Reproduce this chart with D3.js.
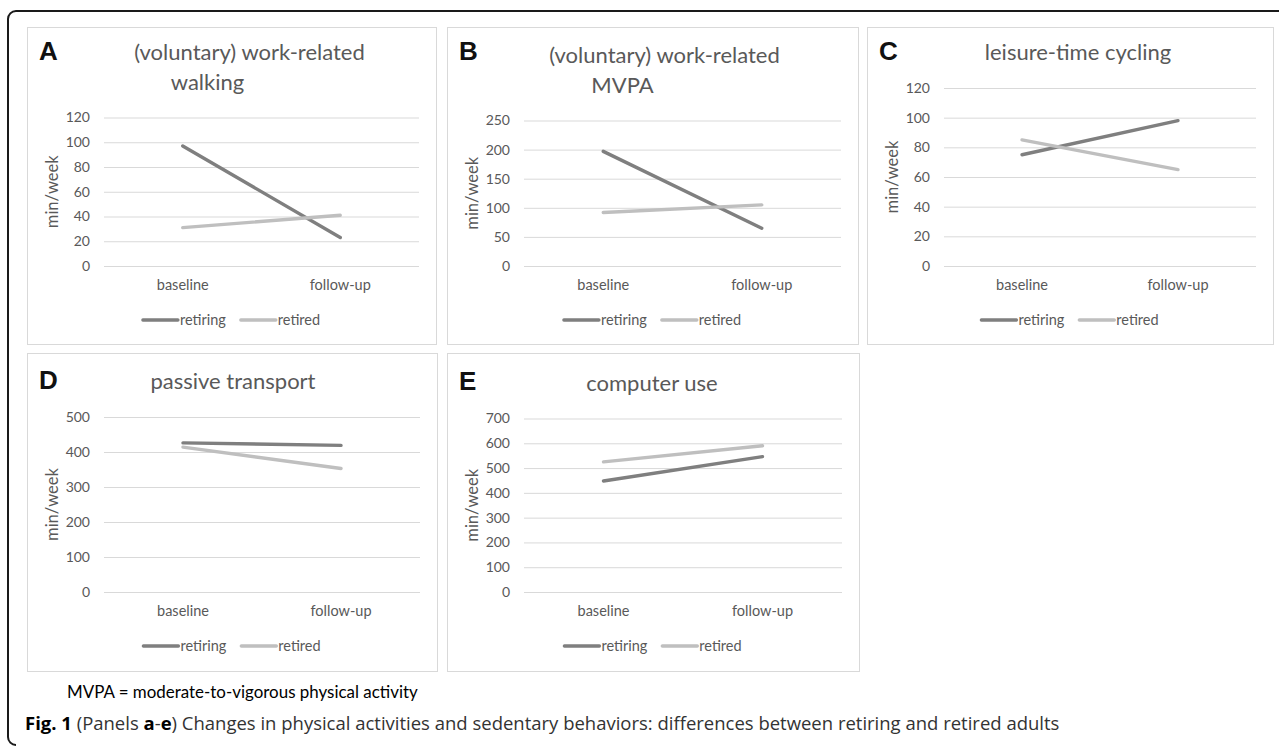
<!DOCTYPE html>
<html>
<head>
<meta charset="utf-8">
<script src="https://cdn.jsdelivr.net/npm/d3@7"></script>
<style>
  body { margin: 0; background: #fff; }
  text { font-family: Lato, "Open Sans", sans-serif; }
</style>
</head>
<body>
<svg id="chart" width="1279" height="747"></svg>
<script>
// data (min/week)
const categories = ['baseline', 'follow-up'];
const seriesNames = ['retiring', 'retired'];
const letters = ['A', 'B', 'C', 'D', 'E'];
const titles = [
  ['(voluntary) work-related', 'walking'],
  ['(voluntary) work-related', 'MVPA'],
  ['leisure-time cycling'],
  ['passive transport'],
  ['computer use'],
];
const yMax = [120, 250, 120, 500, 700];
const yStep = [20, 50, 20, 100, 100];
const retiring = [[97, 23], [197, 65], [75, 98], [426, 419], [448, 546]];
const retired = [[31, 41], [92, 105], [85, 65], [414, 353], [525, 590]];
const note = 'MVPA = moderate-to-vigorous physical activity';
const caption = [
  { t: 'Fig. 1', b: true }, { t: ' (Panels ' }, { t: 'a', b: true }, { t: '-' },
  { t: 'e', b: true }, { t: ') Changes in physical activities and sedentary behaviors: differences between retiring and retired adults' },
];

// layout
const boxes = [
  { x: 27, y: 27, w: 409, h: 317, t: 33, l: 33, dx: [18, -24] },
  { x: 447, y: 27, w: 411, h: 317, t: 36, l: 33, dx: [12, -30] },
  { x: 867, y: 27, w: 406, h: 317, t: 33, l: 33, dx: [8] },
  { x: 27, y: 353, w: 410, h: 318, t: 36, l: 36, dx: [1] },
  { x: 447, y: 353, w: 412, h: 318, t: 37.5, l: 36.5, dx: [-1] },
];
const colors = ['#7f7f7f', '#bfbfbf'];
const textGray = '#595959';
const gridGray = '#d9d9d9';

const svg = d3.select('#chart');

// outer frame, open on the right and bottom
svg.append('path')
  .attr('d', 'M1290,11H16A8,8 0 0 0 8,19V737A8,8 0 0 0 16,745')
  .attr('fill', 'none')
  .attr('stroke', '#1a1a1a')
  .attr('stroke-width', 2);

boxes.forEach((b, i) => {
  const g = svg.append('g').attr('transform', `translate(${b.x},${b.y})`);

  g.append('rect')
    .attr('x', 0.5).attr('y', 0.5)
    .attr('width', b.w).attr('height', b.h)
    .attr('fill', '#fff')
    .attr('stroke', gridGray);

  g.append('text')
    .attr('x', 12).attr('y', b.l)
    .style('font-family', '"Liberation Sans", Arial, sans-serif')
    .attr('font-weight', 'bold')
    .attr('font-size', 26)
    .attr('fill', '#111')
    .text(letters[i]);

  const lines = titles[i];
  lines.forEach((line, k) => {
    g.append('text')
      .attr('x', b.w / 2 + b.dx[k])
      .attr('y', b.t + k * 29.5)
      .attr('text-anchor', 'middle')
      .attr('font-size', 22)
      .attr('fill', textGray)
      .text(line);
  });

  const top = b.t + (lines.length - 1) * 29.5 + 28;
  const bottom = 239;
  const left = 77;
  const right = b.w - 17;

  const x = d3.scaleBand().domain(categories).range([left, right]);
  const y = d3.scaleLinear().domain([0, yMax[i]]).range([bottom, top]);

  const yAxis = g.append('g')
    .attr('transform', `translate(${left},0)`)
    .call(d3.axisLeft(y)
      .tickValues(d3.range(0, yMax[i] + 1, yStep[i]))
      .tickSize(-(right - left))
      .tickPadding(14));
  yAxis.select('.domain').remove();
  yAxis.selectAll('line').attr('stroke', gridGray);
  yAxis.selectAll('text')
    .attr('fill', textGray)
    .attr('font-size', 14)
    .style('font-family', 'Lato, sans-serif');

  const xAxis = g.append('g')
    .attr('transform', `translate(0,${bottom})`)
    .call(d3.axisBottom(x).tickSize(0).tickPadding(14));
  xAxis.select('.domain').remove();
  xAxis.selectAll('text')
    .attr('fill', textGray)
    .attr('font-size', 14.5)
    .style('font-family', 'Lato, sans-serif');

  g.append('text')
    .attr('transform', `translate(25,${(top + bottom) / 2}) rotate(-90)`)
    .attr('text-anchor', 'middle')
    .attr('dy', '0.35em')
    .attr('font-size', 16.5)
    .attr('fill', textGray)
    .text('min/week');

  const line = d3.line()
    .x((d, j) => x(categories[j]) + x.bandwidth() / 2)
    .y(d => y(d));

  [retiring[i], retired[i]].forEach((vals, s) => {
    g.append('path')
      .datum(vals)
      .attr('d', line)
      .attr('fill', 'none')
      .attr('stroke', colors[s])
      .attr('stroke-width', 3.4)
      .attr('stroke-linecap', 'round');
  });

  // legend, centred on the panel
  const lg = g.append('g');
  let cx = 0;
  seriesNames.forEach((name, s) => {
    lg.append('line')
      .attr('x1', cx).attr('x2', cx + 35)
      .attr('y1', 0).attr('y2', 0)
      .attr('stroke', colors[s])
      .attr('stroke-width', 3.4)
      .attr('stroke-linecap', 'round');
    const t = lg.append('text')
      .attr('x', cx + 37)
      .attr('dy', '0.35em')
      .attr('font-size', 14.5)
      .attr('fill', textGray)
      .text(name);
    cx += 37 + t.node().getComputedTextLength() + 15;
  });
  const lw = cx - 15;
  lg.attr('transform', `translate(${b.w / 2 - lw / 2},293)`);
});

// notes under the panels, fitted to the widths in the figure
function fit(sel, width) {
  const fs = +sel.attr('font-size');
  const len = sel.node().getComputedTextLength();
  sel.attr('font-size', fs * width / len);
}

const n = svg.append('text')
  .attr('x', 67).attr('y', 698)
  .attr('font-size', 16)
  .attr('fill', '#000')
  .text(note);
fit(n, 351);

const c = svg.append('text')
  .attr('x', 25).attr('y', 730)
  .attr('font-size', 16)
  .style('font-family', '"Open Sans", sans-serif')
  .attr('fill', '#222');
c.selectAll('tspan')
  .data(caption)
  .join('tspan')
  .attr('font-weight', d => (d.b ? 'bold' : null))
  .attr('fill', d => (d.b ? '#000' : '#333'))
  .text(d => d.t);
fit(c, 1035);
</script>
</body>
</html>
